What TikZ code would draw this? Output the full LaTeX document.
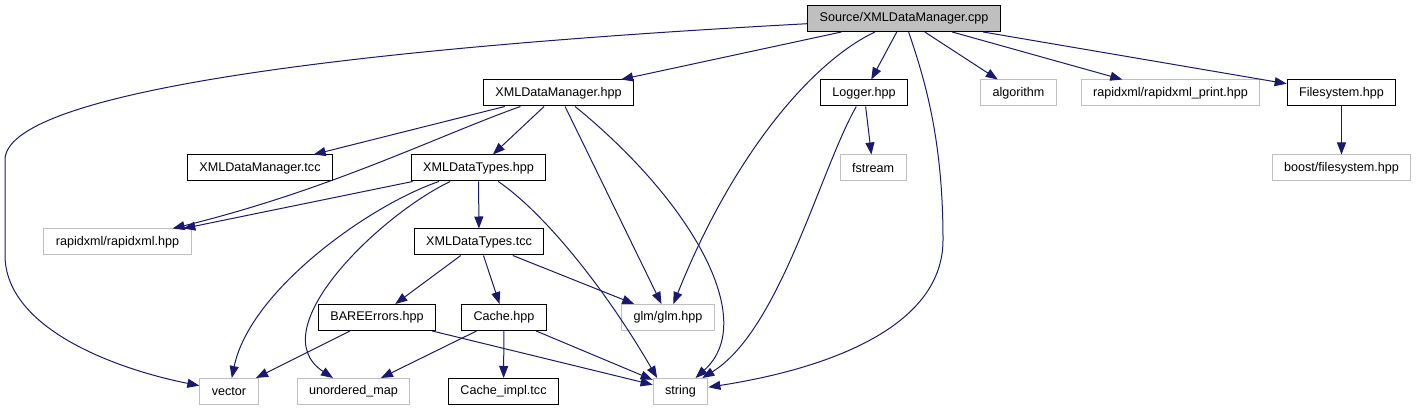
\documentclass[tikz,border=0pt]{standalone}
\usepackage{fontspec}
\setmainfont{Liberation Sans}
\usepackage{tikz}
\usetikzlibrary{arrows.meta}
\definecolor{edgeblue}{RGB}{25,25,112}
\definecolor{sysgray}{RGB}{191,191,191}
\definecolor{maingray}{RGB}{191,191,191}

\begin{document}
\begin{tikzpicture}[x=1pt, y=-1pt,
    file/.style={rectangle, draw=black, fill=white, line width=1pt,
                 minimum height=26pt, inner xsep=12pt, inner ysep=0pt,
                 font=\fontsize{12.6}{14}\selectfont},
    sysfile/.style={file, draw=sysgray},
    arrow/.style={-{Triangle[length=12pt,width=9pt]}, draw=edgeblue, line width=1pt}
]
\useasboundingbox (0,0) rectangle (1418,411);

\node[file, fill=maingray] (cpp)   at (904,18.5) {Source/XMLDataManager.cpp};
\node[file]    (mgrhpp)    at (558.5,93)  {XMLDataManager.hpp};
\node[file]    (logger)    at (864,93)    {Logger.hpp};
\node[sysfile] (algorithm) at (1018.5,93) {algorithm};
\node[sysfile] (rxprint)   at (1170.5,93) {rapidxml/rapidxml\_print.hpp};
\node[file]    (filesys)   at (1341.5,93) {Filesystem.hpp};
\node[file]    (mgrtcc)    at (260,168)   {XMLDataManager.tcc};
\node[file]    (typeshpp)  at (478.5,168) {XMLDataTypes.hpp};
\node[sysfile] (fstream)   at (873,168)   {fstream};
\node[sysfile] (boostfs)   at (1341.5,168) {boost/filesystem.hpp};
\node[sysfile] (rxml)      at (117.5,242) {rapidxml/rapidxml.hpp};
\node[file]    (typestcc)  at (479,242)   {XMLDataTypes.tcc};
\node[file]    (bareerr)   at (377,317.5) {BAREErrors.hpp};
\node[file]    (cache)     at (504,317.5) {Cache.hpp};
\node[sysfile] (glm)       at (668,317.5) {glm/glm.hpp};
\node[sysfile] (vector)    at (229,391.5) {vector};
\node[sysfile] (umap)      at (353.5,391.5) {unordered\_map};
\node[file]    (cacheimpl) at (503.5,391.5) {Cache\_impl.tcc};
\node[sysfile] (string)    at (680.5,391.5) {string};

% Source/XMLDataManager.cpp
\draw[arrow] (cpp) .. controls (320,50) and (5,95) .. (5,160) -- (5,255)
             .. controls (5,330) and (120,370) .. (vector);
\draw[arrow] (cpp) -- (mgrhpp);
\draw[arrow] (cpp) .. controls (815,60) and (735,150) .. (glm);
\draw[arrow] (cpp) -- (logger);
\draw[arrow] (cpp) .. controls (925,80) and (943,140) .. (943,240)
             .. controls (943,330) and (820,370) .. (string);
\draw[arrow] (cpp) -- (algorithm);
\draw[arrow] (cpp) -- (rxprint);
\draw[arrow] (cpp) -- (filesys);

% XMLDataManager.hpp
\draw[arrow] (mgrhpp) -- (mgrtcc);
\draw[arrow] (mgrhpp) .. controls (440,135) and (330,190) .. (rxml);
\draw[arrow] (mgrhpp) -- (typeshpp);
\draw[arrow] (mgrhpp) -- (glm);
\draw[arrow] (mgrhpp) .. controls (690,200) and (760,320) .. (string);

% XMLDataTypes.hpp
\draw[arrow] (typeshpp) -- (rxml);
\draw[arrow] (typeshpp) .. controls (370,205) and (250,290) .. (vector);
\draw[arrow] (typeshpp) .. controls (380,215) and (260,330) .. (umap);
\draw[arrow] (typeshpp) -- (typestcc);
\draw[arrow] (typeshpp) .. controls (540,210) and (600,280) .. (string.150);

% XMLDataTypes.tcc
\draw[arrow] (typestcc) -- (bareerr);
\draw[arrow] (typestcc) -- (cache);
\draw[arrow] (typestcc) -- (glm);

\draw[arrow] (bareerr) -- (vector);
\draw[arrow] (bareerr) -- (string);
\draw[arrow] (cache) -- (umap);
\draw[arrow] (cache) -- (cacheimpl);
\draw[arrow] (cache) -- (string);

\draw[arrow] (logger) -- (fstream);
\draw[arrow] (logger) .. controls (820,170) and (780,330) .. (string);
\draw[arrow] (filesys) -- (boostfs);
\end{tikzpicture}
\end{document}
